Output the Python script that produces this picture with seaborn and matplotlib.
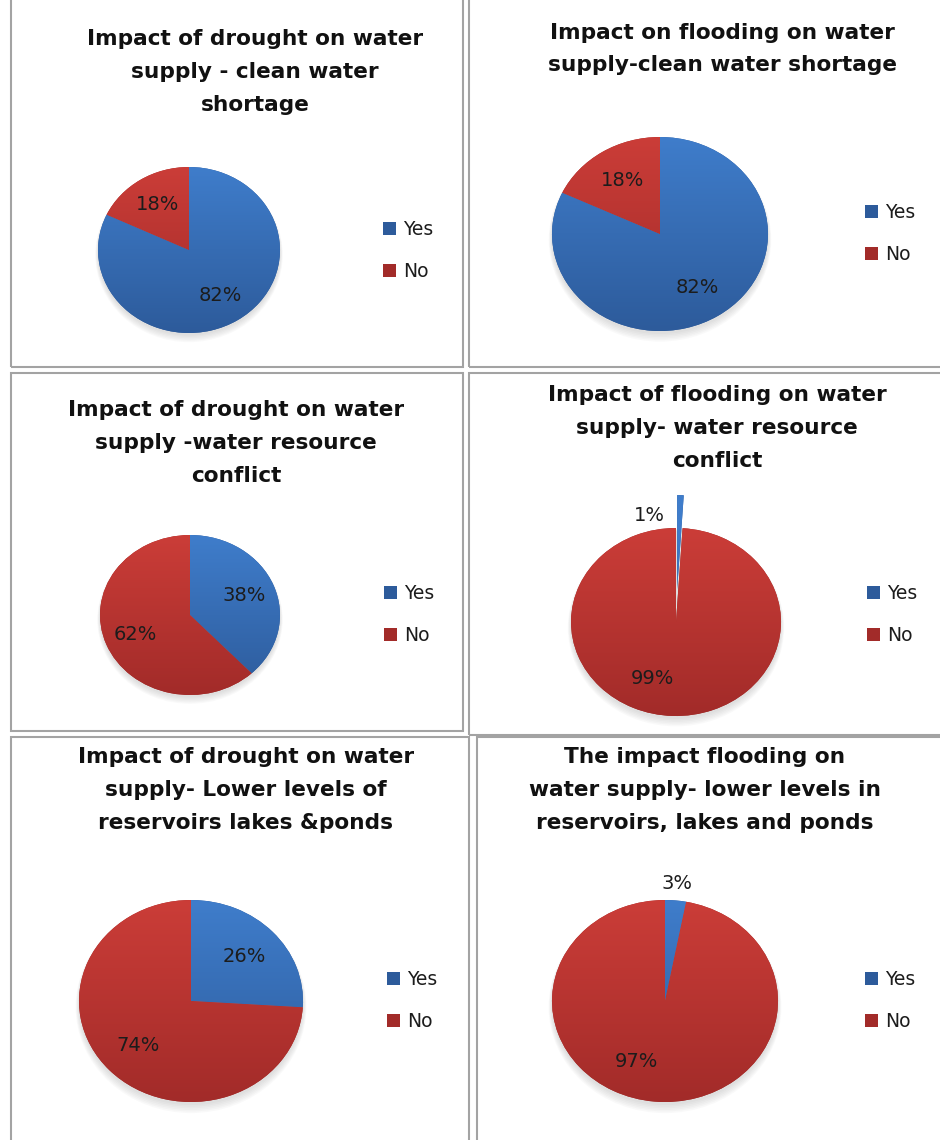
import numpy as np
import matplotlib
matplotlib.use("Agg")
import matplotlib.pyplot as plt
from matplotlib.patches import Rectangle, Ellipse, Patch
from matplotlib.colors import to_rgb
import seaborn as sns

# ---- data -------------------------------------------------------------
titles = [
    "Impact of drought on water\nsupply - clean water\nshortage",
    "Impact on flooding on water\nsupply-clean water shortage",
    "Impact of drought on water\nsupply -water resource\nconflict",
    "Impact of flooding on water\nsupply- water resource\nconflict",
    "Impact of drought on water\nsupply- Lower levels of\nreservoirs lakes &ponds",
    "The impact flooding on\nwater supply- lower levels in\nreservoirs, lakes and ponds",
]
categories = ["Yes", "No"]
yes_pct = [82, 82, 38, 1, 26, 3]
no_pct = [18, 18, 62, 99, 74, 97]

# ---- style ------------------------------------------------------------
sns.set_theme(style="white")
plt.rcParams["font.family"] = ["DejaVu Sans"]

blue_top, blue_bot = "#3f7dcb", "#2d5b9b"
red_top, red_bot = "#cb3d38", "#a22b29"
slice_grads = [(blue_top, blue_bot), (red_top, red_bot)]
legend_colors = sns.color_palette([blue_bot, red_bot])
text_color = "#1c1c1c"
border_color = "#a3a3a3"

W, H = 940, 1140
fig = plt.figure(figsize=(W / 100, H / 100), dpi=100)
fig.patch.set_facecolor("white")


def fx(x):
    return x / W


def fy(y):
    return 1 - y / H


# ---- layout (pixels) ---------------------------------------------------
# pie centre x, y and horizontal / vertical radius
pie_geom = [(189, 250, 91, 83), (660, 234, 108, 97), (190, 615, 90, 80),
            (676, 622, 105, 94), (191, 1001, 112, 101), (665, 1001, 113, 101)]
title_pos = [(255, 72), (722, 49), (236, 443), (717, 428), (246, 790), (705, 790)]
legend_pos = [(383, 230), (865, 213), (384, 594), (867, 594), (387, 980), (865, 980)]
explode_first = [0, 0, 0, 0.35, 0, 0]
label_nudge = {(3, 0): (-0.30, -0.39), (3, 1): (-0.20, 0.05), (5, 1): (-0.19, 0.05)}
cells = [(11, -10, 463, 367), (469, -10, 950, 367),
         (11, 373, 463, 731), (469, 373, 950, 735),
         (11, 737, 469, 1150), (477, 737, 950, 1150)]

# table cell borders
for x0, y0, x1, y1 in cells:
    fig.add_artist(Rectangle((fx(x0), fy(y1)), (x1 - x0) / W, (y1 - y0) / H,
                             transform=fig.transFigure, fill=False,
                             edgecolor=border_color, linewidth=1.5))


def gradient_image(c_top, c_bot, ext):
    ys = np.linspace(ext, -ext, 400)
    t = np.clip((1 - ys) / 2, 0, 1)[:, None]
    a, b = np.array(to_rgb(c_top)), np.array(to_rgb(c_bot))
    rgb = a[None, :] * (1 - t) + b[None, :] * t
    return np.repeat(rgb[:, None, :], 2, axis=1)


EXT = 1.5
for i in range(6):
    cx, cy, rx, ry = pie_geom[i]
    ax = fig.add_axes([fx(cx - EXT * rx), fy(cy + EXT * ry),
                       2 * EXT * rx / W, 2 * EXT * ry / H])
    ax.set_facecolor("none")
    values = [yes_pct[i], no_pct[i]]

    # soft shadow, mostly below the pie
    for k in range(6):
        ax.add_patch(Ellipse((0, -0.03 - 0.006 * k), 2 * (1 + 0.006 * k),
                             2 * (1 + 0.01 * k), facecolor="#808080",
                             edgecolor="none", alpha=0.045, zorder=0))

    wedges, _ = ax.pie(values, startangle=90, counterclock=False,
                       explode=[explode_first[i], 0], radius=1,
                       colors=[blue_bot, red_bot],
                       wedgeprops=dict(linewidth=0))
    for w, (ct, cb) in zip(wedges, slice_grads):
        im = ax.imshow(gradient_image(ct, cb, EXT), extent=(-EXT, EXT, -EXT, EXT),
                       aspect="auto", interpolation="bilinear", zorder=2)
        im.set_clip_path(w)

    # percentage labels
    for j, (w, v) in enumerate(zip(wedges, values)):
        mid = np.deg2rad((w.theta1 + w.theta2) / 2)
        d = 1.17 if v < 5 else 0.65
        px, py = w.center[0] + d * np.cos(mid), w.center[1] + d * np.sin(mid)
        nx, ny = label_nudge.get((i, j), (0, 0))
        ax.text(px + nx, py + ny, f"{v}%", ha="center", va="center",
                fontsize=14, color=text_color, zorder=5)

    ax.set_aspect("auto")
    ax.set_xlim(-EXT, EXT)
    ax.set_ylim(-EXT, EXT)
    ax.axis("off")

    # title
    tx, ty = title_pos[i]
    fig.text(fx(tx), fy(ty), titles[i], ha="center", va="center",
             fontsize=15.6, fontweight="bold", color="#111111",
             linespacing=1.8)

    # legend
    lx, ly = legend_pos[i]
    handles = [Patch(facecolor=c, edgecolor="none") for c in legend_colors]
    ax.legend(handles, categories, loc="center left",
              bbox_to_anchor=(fx(lx), fy(ly + 20.5)),
              bbox_transform=fig.transFigure, frameon=False,
              fontsize=13.5, handlelength=0.7, handleheight=0.7,
              handletextpad=0.35, labelspacing=1.2, borderpad=0,
              borderaxespad=0, labelcolor=text_color)

fig.savefig("out.png", dpi=100, facecolor="white")
